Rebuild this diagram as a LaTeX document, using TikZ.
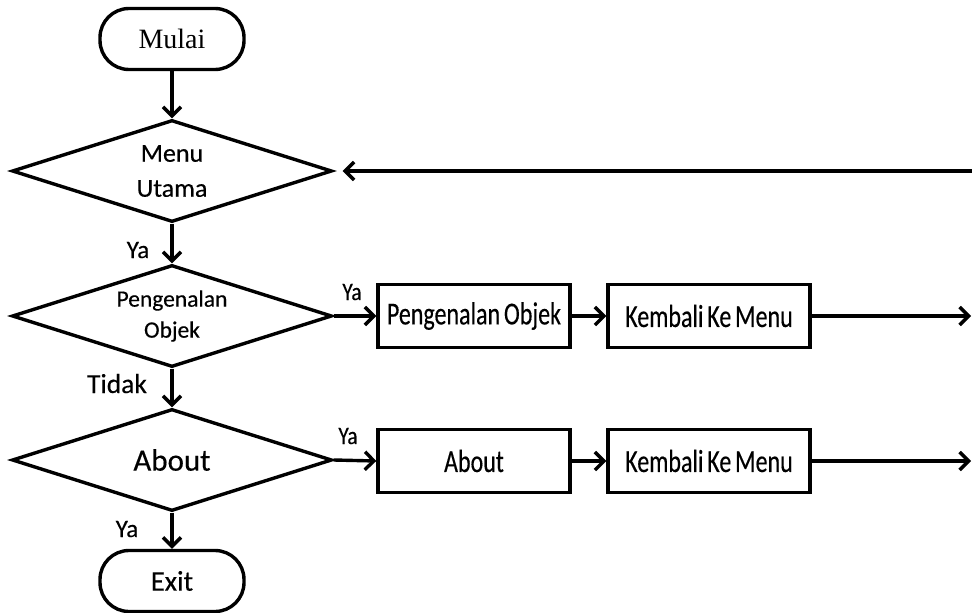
\documentclass[tikz,border=0pt]{standalone}
\usepackage{fontspec}
\setmainfont[FakeBold=0.3]{Carlito}
\newfontfamily\boxfont[FakeStretch=0.75,FakeBold=0.3,WordSpace=0.7]{Carlito}
\newfontfamily\tagfont[FakeStretch=0.85,FakeBold=0.3]{Carlito}
\newfontfamily\startfont{Liberation Serif}
\usetikzlibrary{shapes.geometric,arrows.meta}
\begin{document}
\begin{tikzpicture}[x=1pt,y=-1pt,
  line width=3.4pt,
  terminal/.style={draw, rectangle, rounded corners=29pt, minimum width=144pt,
    minimum height=61pt, inner sep=0pt},
  decision/.style={draw, diamond, aspect=3.15, minimum width=320pt,
    minimum height=102pt, inner sep=0pt, align=center},
  process/.style={draw, rectangle, minimum height=63pt,
    inner sep=0pt, font=\boxfont\fontsize{32}{32}\selectfont},
  flow/.style={-{Straight Barb[length=9pt,width=18pt]}},
  tag/.style={anchor=base, inner sep=0pt}
]
\useasboundingbox (0,0) rectangle (972,613);

% main column
\node[terminal, font=\startfont\fontsize{28}{28}\selectfont] (mulai) at (172,39) {Mulai};
\node[decision, font=\fontsize{26}{35}\selectfont] (menu) at (172,171) {Menu\\Utama};
\node[decision, font=\fontsize{23.5}{31}\selectfont] (kenal) at (172,316) {Pengenalan\\Objek};
\node[decision, font=\fontsize{31}{31}\selectfont] (about) at (172,460) {About};
\node[terminal, font=\fontsize{28.5}{28.5}\selectfont] (exit) at (172,581) {Exit};

% branches
\node[process, minimum width=192pt] (kenalbox) at (474,316) {Pengenalan Objek};
\node[process, minimum width=202pt] (back1) at (709,316) {Kembali Ke Menu};
\node[process, minimum width=192pt] (aboutbox) at (474,461) {About};
\node[process, minimum width=202pt] (back2) at (709,461) {Kembali Ke Menu};

\coordinate (end1) at (971,316);
\coordinate (end2) at (971,461);
\coordinate (ret) at (972,171);

% connectors
\draw[flow] (mulai) -- (menu);
\draw[flow] (menu) -- (kenal);
\draw[flow] (kenal) -- (about);
\draw[flow] (about) -- (exit);
\draw[flow] (kenal.east) -- (kenalbox.west);
\draw[flow] (kenalbox) -- (back1);
\draw[flow] (back1) -- (end1);
\draw[flow] (about.east) -- (aboutbox.west);
\draw[flow] (aboutbox) -- (back2);
\draw[flow] (back2) -- (end2);
\draw[flow, shorten >=9pt] (ret) -- (menu.east);

% branch labels
\node[tag, font=\fontsize{25}{25}\selectfont] (ya1) at (138,258) {Ya};
\node[tag, font=\fontsize{27.5}{27.5}\selectfont] (tidak) at (117,393) {Tidak};
\node[tag, font=\fontsize{25}{25}\selectfont] (ya2) at (127,537) {Ya};
\node[tag, font=\tagfont\fontsize{25}{25}\selectfont] (ya3) at (352,300) {Ya};
\node[tag, font=\tagfont\fontsize{25}{25}\selectfont] (ya4) at (348,444) {Ya};
\end{tikzpicture}
\end{document}
